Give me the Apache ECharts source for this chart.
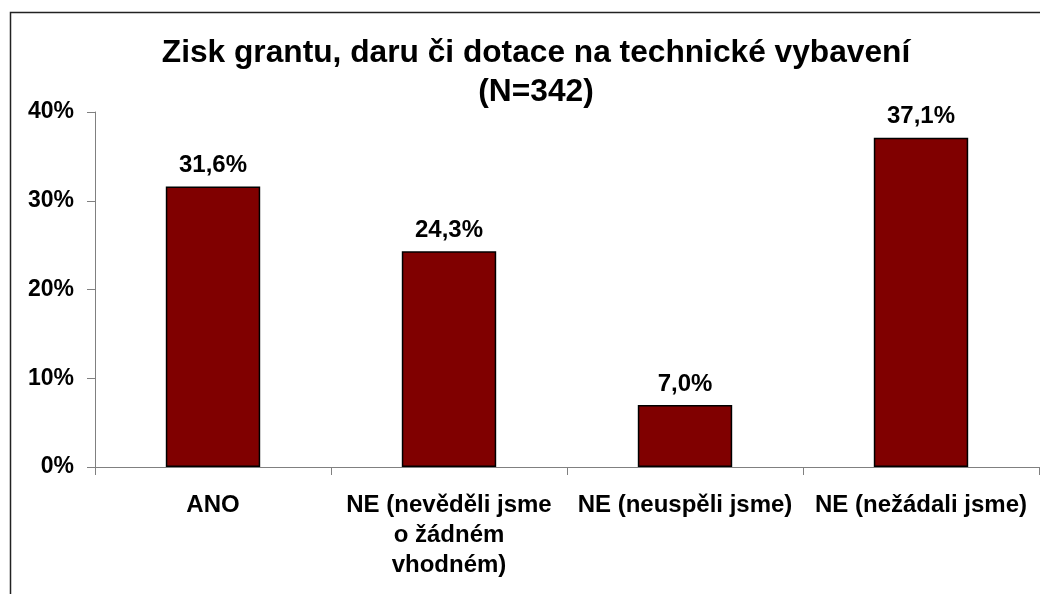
<!DOCTYPE html>
<html>
<head>
<meta charset="utf-8">
<script src="https://cdn.jsdelivr.net/npm/echarts@6/dist/echarts.min.js"></script>
<style>
html,body{margin:0;padding:0;background:#fff;}
#chart{width:1040px;height:594px;}
</style>
</head>
<body>
<div id="chart"></div>
<script>
const titleText = 'Zisk grantu, daru či dotace na technické vybavení\n(N=342)';
const categories = ['ANO', 'NE (nevěděli jsme\no žádném\nvhodném)', 'NE (neuspěli jsme)', 'NE (nežádali jsme)'];
const values = [31.6, 24.3, 7.0, 37.1];
const yTicks = [0, 10, 20, 30, 40];

const FONT = 'Liberation Sans, Arial, sans-serif';
const chart = echarts.init(document.getElementById('chart'));
chart.setOption({
  backgroundColor: '#fff',
  animation: false,
  graphic: [{
    type: 'rect',
    shape: { x: 10.5, y: 12.5, width: 1100, height: 700 },
    style: { fill: 'none', stroke: '#222', lineWidth: 1.5 },
    silent: true
  }],
  title: {
    text: titleText,
    left: 531,
    textAlign: 'center',
    top: 29,
    textStyle: { fontFamily: FONT, fontWeight: 'bold', fontSize: 31.7, color: '#000', lineHeight: 39 }
  },
  grid: { left: 95, right: 1, top: 112, bottom: 127, containLabel: false },
  xAxis: {
    type: 'category',
    data: categories,
    axisLine: { lineStyle: { color: '#808080', width: 1 } },
    axisTick: { show: true, length: 8, lineStyle: { color: '#808080' }, alignWithLabel: false },
    axisLabel: {
      interval: 0, margin: 23, fontFamily: FONT, fontWeight: 'bold', fontSize: 24,
      color: '#000', lineHeight: 30, align: 'center'
    }
  },
  yAxis: {
    type: 'value',
    min: yTicks[0],
    max: yTicks[yTicks.length - 1],
    interval: 10,
    axisLine: { show: true, lineStyle: { color: '#808080', width: 1 } },
    axisTick: { show: true, length: 8, lineStyle: { color: '#808080' } },
    splitLine: { show: false },
    axisLabel: {
      margin: 21, fontFamily: FONT, fontWeight: 'bold', fontSize: 23, color: '#000',
      formatter: v => v + '%'
    }
  },
  series: [{
    type: 'bar',
    data: values,
    barWidth: '40%',
    itemStyle: { color: '#800000', borderColor: '#000', borderWidth: 1.5 },
    label: {
      show: true, position: 'top', distance: 9,
      fontFamily: FONT, fontWeight: 'bold', fontSize: 24, color: '#000',
      formatter: p => p.value.toFixed(1).replace('.', ',') + '%'
    }
  }]
});
</script>
</body>
</html>
